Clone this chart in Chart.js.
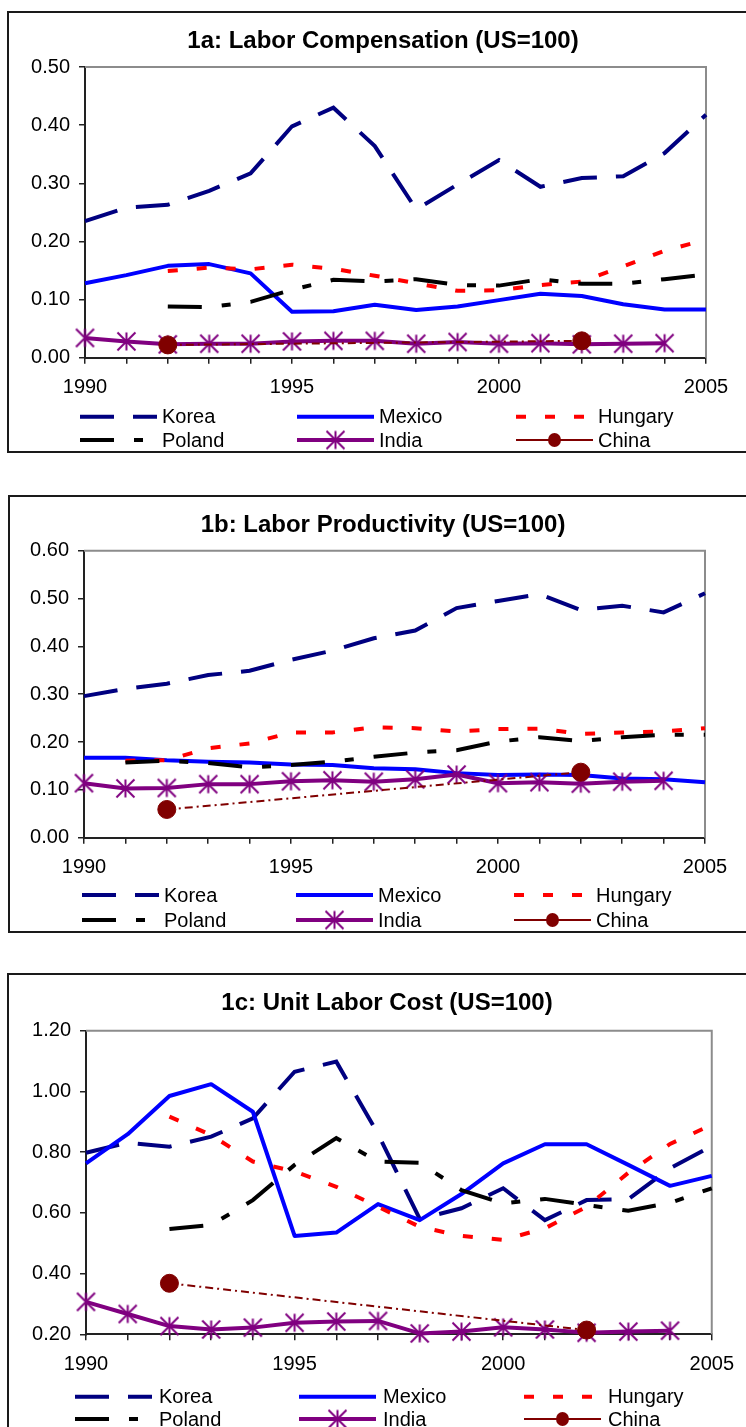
<!DOCTYPE html>
<html>
<head>
<meta charset="utf-8">
<script src="https://cdn.jsdelivr.net/npm/chart.js@4.4.0/dist/chart.umd.min.js"></script>
<style>
  html, body { margin: 0; padding: 0; background: #fff; }
  body { width: 746px; height: 1427px; position: relative; overflow: hidden; }
  .frame { position: absolute; border: 2px solid #1a1a1a; box-sizing: border-box; }
  canvas { position: absolute; left: 0; }
</style>
</head>
<body>
<div class="frame" style="left:7px;top:11px;width:800px;height:442px"></div>
<div class="frame" style="left:8px;top:495px;width:800px;height:438px"></div>
<div class="frame" style="left:7px;top:973px;width:800px;height:500px"></div>

<canvas id="c1" width="746" height="460" style="top:0px"></canvas>
<canvas id="c2" width="746" height="470" style="top:470px"></canvas>
<canvas id="c3" width="746" height="467" style="top:960px"></canvas>

<script>
// ── DATA ──────────────────────────────────────────────────────────────────
const years = [1990, 1991, 1992, 1993, 1994, 1995, 1996, 1997,
               1998, 1999, 2000, 2001, 2002, 2003, 2004, 2005];

// 1a: Labor Compensation (US=100)
const korea1   = [0.235, 0.258, 0.263, 0.287, 0.317, 0.398, 0.430, 0.364, 0.255, 0.298, 0.340, 0.294, 0.309, 0.312, 0.352, 0.418];
const mexico1  = [0.128, 0.142, 0.158, 0.161, 0.145, 0.079, 0.080, 0.091, 0.082, 0.088, 0.099, 0.110, 0.106, 0.092, 0.083, 0.083];
const hungary1 = [null, null, 0.149, 0.155, 0.152, 0.160, 0.153, 0.141, 0.128, 0.115, 0.116, 0.125, 0.131, 0.157, 0.184, 0.203];
const poland1  = [null, null, 0.088, 0.087, 0.096, 0.117, 0.134, 0.131, 0.135, 0.125, 0.124, 0.135, 0.127, 0.127, 0.135, 0.143];
const india1   = [0.034, 0.028, 0.023, 0.024, 0.024, 0.028, 0.029, 0.029, 0.024, 0.027, 0.024, 0.025, 0.023, 0.024, 0.025, null];
const china1   = [null, null, 0.022, null, null, null, null, null, null, null, null, null, 0.029, null, null, null];

// 1b: Labor Productivity (US=100)
const korea2   = [0.296, 0.311, 0.322, 0.340, 0.349, 0.372, 0.391, 0.417, 0.433, 0.480, 0.495, 0.509, 0.476, 0.485, 0.471, 0.511];
const mexico2  = [0.167, 0.167, 0.162, 0.159, 0.157, 0.153, 0.152, 0.145, 0.143, 0.135, 0.131, 0.132, 0.131, 0.124, 0.122, 0.116];
const hungary2 = [null, 0.161, 0.162, 0.187, 0.197, 0.220, 0.220, 0.231, 0.229, 0.222, 0.227, 0.228, 0.217, 0.220, 0.222, 0.229];
const poland2  = [null, 0.157, 0.161, 0.156, 0.147, 0.152, 0.159, 0.169, 0.178, 0.183, 0.201, 0.210, 0.202, 0.210, 0.215, 0.215];
const india2   = [0.114, 0.103, 0.104, 0.112, 0.112, 0.118, 0.120, 0.117, 0.122, 0.132, 0.114, 0.116, 0.113, 0.117, 0.119, null];
const china2   = [null, null, 0.059, null, null, null, null, null, null, null, null, null, 0.137, null, null, null];

// 1c: Unit Labor Cost (US=100)
const korea3   = [0.798, 0.831, 0.818, 0.851, 0.911, 1.065, 1.098, 0.860, 0.580, 0.615, 0.681, 0.576, 0.642, 0.645, 0.747, 0.820];
const mexico3  = [0.763, 0.859, 0.985, 1.024, 0.933, 0.524, 0.535, 0.629, 0.576, 0.662, 0.763, 0.826, 0.826, 0.758, 0.689, 0.722];
const hungary3 = [null, null, 0.917, 0.856, 0.769, 0.736, 0.686, 0.620, 0.554, 0.524, 0.511, 0.549, 0.620, 0.732, 0.827, 0.890];
const poland3  = [null, null, 0.547, 0.560, 0.642, 0.758, 0.846, 0.769, 0.765, 0.675, 0.631, 0.646, 0.626, 0.607, 0.633, 0.681];
const india3   = [0.307, 0.267, 0.227, 0.216, 0.222, 0.238, 0.242, 0.244, 0.203, 0.209, 0.223, 0.216, 0.205, 0.209, 0.212, null];
const china3   = [null, null, 0.368, null, null, null, null, null, null, null, null, null, 0.214, null, null, null];

// ── STYLE ─────────────────────────────────────────────────────────────────
const FONT = '"Liberation Sans", Arial, Helvetica, sans-serif';
Chart.defaults.font.family = FONT;
Chart.defaults.color = '#000';

// Excel-style asterisk marker (X plus vertical bar)
function asteriskMarker(color, size, lw) {
  const c = document.createElement('canvas');
  c.width = size; c.height = size;
  const g = c.getContext('2d');
  g.strokeStyle = color;
  g.lineWidth = lw;
  const a = 1.5, b = size - 1.5, m = size / 2;
  g.beginPath();
  g.moveTo(m, a); g.lineTo(m, b);
  g.moveTo(a, a); g.lineTo(b, b);
  g.moveTo(b, a); g.lineTo(a, b);
  g.stroke();
  return c;
}
const STAR = asteriskMarker('#800080', 21, 2);

function buildDatasets(k, m, h, p, ind, ch) {
  const base = { fill: false, tension: 0, pointRadius: 0, clip: false, borderCapStyle: 'butt' };
  return [
    { ...base, label: 'Korea',   data: k,   borderColor: '#000080', borderWidth: 4, borderDash: [34, 19], order: 6 },
    { ...base, label: 'Mexico',  data: m,   borderColor: '#0000ff', borderWidth: 4, borderJoinStyle: 'round', order: 5 },
    { ...base, label: 'Hungary', data: h,   borderColor: '#ff0000', borderWidth: 4, borderDash: [10, 19], order: 4 },
    { ...base, label: 'Poland',  data: p,   borderColor: '#000000', borderWidth: 4, borderDash: [34, 20, 9, 20], order: 3 },
    { ...base, label: 'India',   data: ind, borderColor: '#800080', borderWidth: 4, borderJoinStyle: 'round',
      pointStyle: STAR, pointRadius: 10, order: 2 },
    { ...base, label: 'China',   data: ch,  borderColor: '#800000', backgroundColor: '#800000', borderWidth: 2,
      borderDash: [8, 4, 2, 4], pointStyle: 'circle', pointRadius: 9, pointBorderWidth: 1,
      spanGaps: true, legendSolid: true, order: 1 }
  ];
}

// ── DECOR PLUGIN: title, plot frame, Excel-like legend ───────────────────
const excelDecor = {
  id: 'excelDecor',
  beforeDatasetsDraw(chart, args, opts) {
    const { ctx, chartArea: a } = chart;
    ctx.save();
    ctx.strokeStyle = '#8c8c8c';
    ctx.lineWidth = 2;
    ctx.beginPath();
    ctx.moveTo(a.left, a.top);
    ctx.lineTo(a.right, a.top);
    ctx.lineTo(a.right, a.bottom);
    ctx.stroke();
    ctx.restore();
  },
  afterDraw(chart, args, opts) {
    const ctx = chart.ctx;
    ctx.save();
    // title
    ctx.fillStyle = '#000';
    ctx.font = 'bold 24px ' + FONT;
    ctx.textAlign = 'center';
    ctx.textBaseline = 'middle';
    ctx.fillText(opts.title, opts.titleX, opts.titleY);

    // legend
    ctx.font = '20px ' + FONT;
    ctx.textAlign = 'left';
    chart.data.datasets.forEach((ds, i) => {
      const x = opts.cols[i % 3];
      const y = opts.rows[Math.floor(i / 3)];
      const len = 77;
      ctx.save();
      ctx.strokeStyle = ds.borderColor;
      ctx.lineWidth = ds.borderWidth;
      ctx.setLineDash(ds.legendSolid ? [] : (ds.borderDash || []));
      ctx.beginPath();
      ctx.moveTo(x, y);
      ctx.lineTo(x + len, y);
      ctx.stroke();
      ctx.setLineDash([]);
      const cx = x + len / 2;
      if (ds.pointStyle === STAR) {
        ctx.drawImage(STAR, cx - STAR.width / 2, y - STAR.height / 2);
      } else if (ds.pointStyle === 'circle') {
        ctx.fillStyle = ds.backgroundColor;
        ctx.beginPath();
        ctx.ellipse(cx, y, 6.5, 7, 0, 0, Math.PI * 2);
        ctx.fill();
      }
      ctx.restore();
      ctx.fillStyle = '#000';
      ctx.fillText(ds.label, x + opts.textOffset, y + 1);
    });
    ctx.restore();
  }
};

function makeChart(id, data, cfg) {
  const axisColor = '#222';
  return new Chart(document.getElementById(id), {
    type: 'line',
    data: { labels: years, datasets: data },
    options: {
      responsive: false,
      animation: false,
      events: [],
      layout: { padding: cfg.padding },
      plugins: {
        legend: { display: false },
        tooltip: { enabled: false },
        title: { display: false },
        excelDecor: cfg.decor
      },
      scales: {
        x: {
          type: 'category',
          offset: false,
          grid: { drawOnChartArea: false, offset: false, tickLength: 6, color: axisColor, lineWidth: 1.5 },
          border: { color: axisColor, width: 2 },
          ticks: {
            autoSkip: false, maxRotation: 0, minRotation: 0, padding: 12,
            color: '#000', font: { size: 20 },
            callback: (v, i) => (years[i] % 5 === 0 ? String(years[i]) : '')
          },
          afterFit: s => { s.height = 40; }
        },
        y: {
          min: cfg.yMin, max: cfg.yMax,
          grid: { drawOnChartArea: false, tickLength: 6, color: axisColor, lineWidth: 1.5 },
          border: { color: axisColor, width: 2 },
          ticks: {
            stepSize: cfg.yStep, padding: 9, color: '#000', font: { size: 20 },
            callback: v => Number(v).toFixed(2)
          },
          afterFit: s => { s.width = cfg.yWidth; }
        }
      }
    },
    plugins: [excelDecor]
  });
}

// ── CHARTS ────────────────────────────────────────────────────────────────
makeChart('c1', buildDatasets(korea1, mexico1, hungary1, poland1, india1, china1), {
  yMin: 0, yMax: 0.5, yStep: 0.1, yWidth: 85,
  padding: { top: 67, left: 0, right: 40, bottom: 62.3 },
  decor: { title: '1a: Labor Compensation (US=100)', titleX: 383, titleY: 41,
           cols: [80, 297, 516], rows: [416.7, 440], textOffset: 82 }
});

makeChart('c2', buildDatasets(korea2, mexico2, hungary2, poland2, india2, china2), {
  yMin: 0, yMax: 0.6, yStep: 0.1, yWidth: 84,
  padding: { top: 80.7, left: 0, right: 41, bottom: 62.3 },
  decor: { title: '1b: Labor Productivity (US=100)', titleX: 383, titleY: 55,
           cols: [82, 296, 514], rows: [425, 450], textOffset: 82 }
});

makeChart('c3', buildDatasets(korea3, mexico3, hungary3, poland3, india3, china3), {
  yMin: 0.2, yMax: 1.2, yStep: 0.2, yWidth: 86,
  padding: { top: 70.7, left: 0, right: 33, bottom: 52.7 },
  decor: { title: '1c: Unit Labor Cost (US=100)', titleX: 387, titleY: 43,
           cols: [75, 299, 524], rows: [436.7, 459], textOffset: 84 }
});
</script>
</body>
</html>
